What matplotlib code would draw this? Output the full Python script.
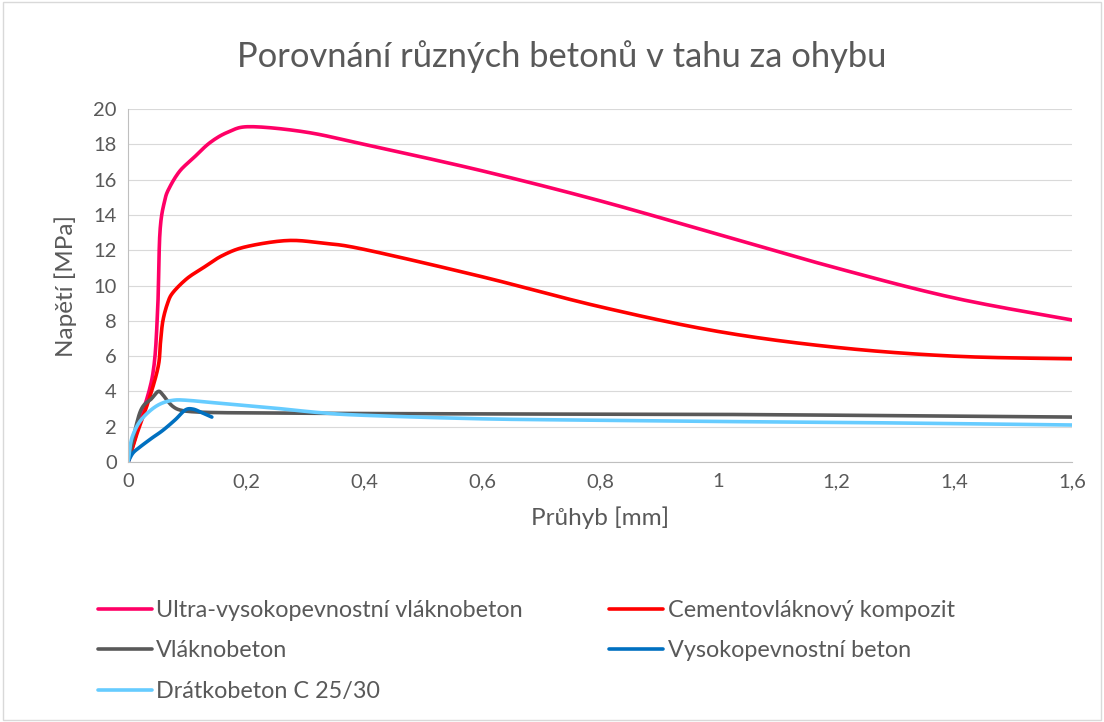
import numpy as np
import matplotlib.pyplot as plt
from matplotlib.patches import Rectangle

plt.rcParams['font.family'] = ['Lato', 'DejaVu Sans']

# odečtené body křivek (průhyb [mm], napětí [MPa])
uhpfrc_x = [0, 0.02, 0.042, 0.05, 0.054, 0.062, 0.071, 0.088, 0.11, 0.139, 0.17, 0.207, 0.3, 0.4, 0.6, 0.8, 1.0, 1.2, 1.4, 1.6]
uhpfrc_y = [0, 2.3, 5.0, 8.5, 13.0, 14.8, 15.6, 16.5, 17.2, 18.1, 18.7, 19.0, 18.7, 18.0, 16.5, 14.8, 12.9, 11.0, 9.3, 8.05]

ecc_x = [0, 0.015, 0.035, 0.051, 0.055, 0.059, 0.067, 0.076, 0.1, 0.127, 0.16, 0.2, 0.27, 0.33, 0.4, 0.6, 0.8, 1.0, 1.2, 1.4, 1.6]
ecc_y = [0, 1.6, 3.5, 5.4, 6.8, 8.0, 9.0, 9.6, 10.4, 11.0, 11.7, 12.2, 12.55, 12.4, 12.05, 10.5, 8.8, 7.4, 6.5, 6.0, 5.85]

frc_x = [0, 0.02, 0.04, 0.051, 0.058, 0.066, 0.076, 0.088, 0.11, 0.156, 0.25, 0.4, 0.7, 1.0, 1.3, 1.6]
frc_y = [0, 2.8, 3.6, 4.0, 3.85, 3.5, 3.15, 2.95, 2.85, 2.8, 2.78, 2.75, 2.72, 2.7, 2.63, 2.55]

hsc_x = [0, 0.008, 0.02, 0.04, 0.059, 0.08, 0.097, 0.11, 0.125, 0.142]
hsc_y = [0, 0.5, 0.85, 1.35, 1.8, 2.4, 2.95, 3.0, 2.8, 2.55]

sfrc_x = [0, 0.004, 0.009, 0.02, 0.037, 0.055, 0.076, 0.1, 0.156, 0.25, 0.325, 0.4, 0.6, 0.8, 1.0, 1.2, 1.4, 1.6]
sfrc_y = [0, 1.0, 1.6, 2.3, 2.9, 3.3, 3.5, 3.5, 3.33, 3.05, 2.8, 2.65, 2.45, 2.37, 2.3, 2.25, 2.18, 2.1]

series = [
    ("Ultra-vysokopevnostní vláknobeton", uhpfrc_x, uhpfrc_y, "#FF0066"),
    ("Cementovláknový kompozit", ecc_x, ecc_y, "#FF0000"),
    ("Vláknobeton", frc_x, frc_y, "#595959"),
    ("Vysokopevnostní beton", hsc_x, hsc_y, "#0070C0"),
    ("Drátkobeton C 25/30", sfrc_x, sfrc_y, "#66CCFF"),
]

x_ticks = [0, 0.2, 0.4, 0.6, 0.8, 1.0, 1.2, 1.4, 1.6]
x_labels = ["0", "0,2", "0,4", "0,6", "0,8", "1", "1,2", "1,4", "1,6"]
y_ticks = [0, 2, 4, 6, 8, 10, 12, 14, 16, 18, 20]


def smooth(xs, ys, n=12):
    # Catmull-Rom, aby to vypadalo jako vyhlazená čára z Excelu
    xs = np.asarray(xs, float)
    ys = np.asarray(ys, float)
    px = np.concatenate([[xs[0]], xs, [xs[-1]]])
    py = np.concatenate([[ys[0]], ys, [ys[-1]]])
    ox, oy = [], []
    t = np.linspace(0, 1, n, endpoint=False)
    for i in range(1, len(px) - 2):
        for arr, out in ((px, ox), (py, oy)):
            p0, p1, p2, p3 = arr[i - 1], arr[i], arr[i + 1], arr[i + 2]
            out.extend(0.5 * (2 * p1 + (-p0 + p2) * t + (2 * p0 - 5 * p1 + 4 * p2 - p3) * t ** 2
                              + (-p0 + 3 * p1 - 3 * p2 + p3) * t ** 3))
    ox.append(xs[-1])
    oy.append(ys[-1])
    return ox, oy


fig = plt.figure(figsize=(11.04, 7.22), dpi=100)
ax = fig.add_axes([0.116, 0.360, 0.855, 0.489])

for name, xs, ys, col in series:
    sx, sy = smooth(xs, ys)
    ax.plot(sx, sy, color=col, lw=2.6, label=name, solid_capstyle='round')

ax.set_xlim(0, 1.6)
ax.set_ylim(0, 20)
ax.set_xticks(x_ticks)
ax.set_xticklabels(x_labels)
ax.set_yticks(y_ticks)
ax.tick_params(length=0, labelsize=14.5, colors='#595959', pad=8)
ax.grid(axis='y', color='#D9D9D9', lw=0.8)
ax.set_axisbelow(True)
for s in ['top', 'right']:
    ax.spines[s].set_visible(False)
for s in ['left', 'bottom']:
    ax.spines[s].set_color('#BFBFBF')
ax.set_xlabel("Průhyb [mm]", fontsize=17.5, color='#595959', labelpad=12)
ax.set_ylabel("Napětí [MPa]", fontsize=17.5, color='#595959', labelpad=12)
fig.text(0.509, 0.922, "Porovnání různých betonů v tahu za ohybu", ha='center', va='center',
         fontsize=24.8, color='#595959')

handles, labels = ax.get_legend_handles_labels()
order = [0, 2, 4, 1, 3]
leg = fig.legend([handles[i] for i in order], [labels[i] for i in order], ncol=2,
                 loc='upper left', bbox_to_anchor=(0.074, 0.192), frameon=False,
                 fontsize=16.8, labelcolor='#595959', handlelength=2.3, handletextpad=0.2,
                 columnspacing=3.7, labelspacing=0.84, borderpad=0.2)

fig.patches.append(Rectangle((0.003, 0.003), 0.994, 0.994, transform=fig.transFigure,
                             fill=False, edgecolor='#D9D9D9', lw=1))

fig.savefig("out.png", dpi=100)
